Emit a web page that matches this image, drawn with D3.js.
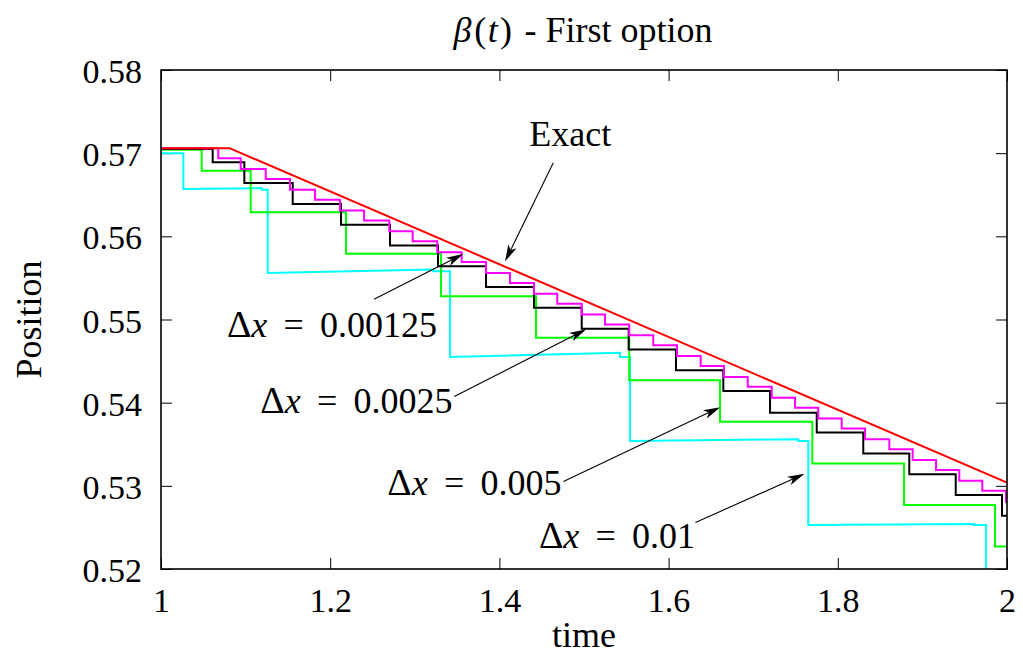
<!DOCTYPE html>
<html>
<head>
<meta charset="utf-8">
<script src="https://cdn.jsdelivr.net/npm/d3@7"></script>
<style>
  body { margin: 0; background: #fff; }
  svg text { font-family: "Liberation Serif", "Times New Roman", serif !important; fill: #000; }
</style>
</head>
<body>
<svg id="chart" width="1023" height="655"></svg>
<script>
// ---- axis ticks ----
const xTicks = [1, 1.2, 1.4, 1.6, 1.8, 2];
const yTicks = [0.52, 0.53, 0.54, 0.55, 0.56, 0.57, 0.58];

// ---- exact interface position ----
const exactTime = [1, 1.081, 2];
const exactPos  = [0.5706, 0.5706, 0.5304];

// ---- Δx = 0.00125 : start of each plateau and its level ----
const fineTime = [1, 1.0677, 1.0942, 1.1238, 1.1525, 1.1820, 1.2116, 1.2400, 1.2699, 1.2975,
  1.3266, 1.3554, 1.3842, 1.4125, 1.4409, 1.4684, 1.4973, 1.5248, 1.5535, 1.5819, 1.6099,
  1.6379, 1.6655, 1.6935, 1.7219, 1.7494, 1.7769, 1.8046, 1.8322, 1.8609, 1.8885, 1.9161,
  1.9436, 1.9708, 1.9988];
const finePos = [0.5706, 0.5694, 0.5681, 0.5669, 0.5656, 0.5644, 0.5631, 0.5619, 0.5606, 0.5594,
  0.5581, 0.5569, 0.5556, 0.5544, 0.5531, 0.5519, 0.5506, 0.5494, 0.5481, 0.5469, 0.5456,
  0.5444, 0.5431, 0.5419, 0.5406, 0.5394, 0.5381, 0.5369, 0.5356, 0.5344, 0.5331, 0.5319,
  0.5306, 0.5294, 0.5281];

// ---- Δx = 0.0025 ----
const midTime = [1, 1.0611, 1.0985, 1.1557, 1.2128, 1.2707, 1.3274, 1.3842, 1.4409, 1.4973,
  1.5528, 1.6087, 1.6647, 1.7199, 1.7751, 1.8301, 1.8845, 1.9394, 1.9941];
const midPos = [0.5705, 0.5689, 0.5664, 0.5639, 0.5614, 0.5589, 0.5564, 0.5539, 0.5514, 0.5489,
  0.5464, 0.5439, 0.5414, 0.5388, 0.5364, 0.5339, 0.5314, 0.5289, 0.5264];

// ---- Δx = 0.005 ----
const coarseTime = [1, 1.0481, 1.1060, 1.2187, 1.3310, 1.4433, 1.5535, 1.6608, 1.7699, 1.8783, 1.9858];
const coarsePos  = [0.5704, 0.5679, 0.5629, 0.5579, 0.5528, 0.5478, 0.5427, 0.5377, 0.5327, 0.5277, 0.5227];

// ---- Δx = 0.01 (vertices of the trace) ----
const roughTime = [1, 1.0264, 1.0264, 1.1190, 1.1190, 1.1261, 1.1261, 1.3219, 1.3219, 1.3416,
  1.3416, 1.5426, 1.5426, 1.5544, 1.5544, 1.7533, 1.7533, 1.7651, 1.7651, 1.9613, 1.9613,
  1.9752, 1.9752];
const roughPos = [0.5700, 0.5700, 0.5657, 0.5658, 0.5656, 0.5656, 0.5556, 0.5560, 0.5558, 0.5558,
  0.5455, 0.5460, 0.5455, 0.5455, 0.5354, 0.5356, 0.5354, 0.5354, 0.5253, 0.5254, 0.5253,
  0.5253, 0.5153];

// ---- annotations (data coordinates) ----
const labelText = ["Exact", "0.00125", "0.0025", "0.005", "0.01"];
const labelTime = [1.4838, 1.2021, 1.2310, 1.3704, 1.5390];
const labelPos  = [0.5709, 0.5479, 0.5387, 0.5289, 0.5225];
const arrowFromTime = [1.4637, 1.2518, 1.3467, 1.4757, 1.6317];
const arrowFromPos  = [0.56886, 0.55244, 0.54073, 0.53052, 0.52559];
const arrowToTime   = [1.4066, 1.3573, 1.5027, 1.6611, 1.7606];
const arrowToPos    = [0.55696, 0.55788, 0.54883, 0.53946, 0.53144];

// ---- layout ----
const serif = '"Liberation Serif", "Times New Roman", serif';
const plot = { left: 161, right: 1007, top: 70, bottom: 569 };
const svg = d3.select("#chart").attr("font-family", serif);

const x = d3.scaleLinear().domain([1, 2]).range([plot.left, plot.right]);
const y = d3.scaleLinear().domain([0.52, 0.58]).range([plot.bottom, plot.top]);

svg.append("defs").append("clipPath").attr("id", "plotClip")
  .append("rect")
  .attr("x", plot.left).attr("y", plot.top)
  .attr("width", plot.right - plot.left).attr("height", plot.bottom - plot.top);

// ---- axes with inward ticks on all four sides ----
const tickLen = 11;
const fmtX = d3.format("");
const fmtY = d3.format(".2f");

const gBottom = svg.append("g").attr("transform", `translate(0,${plot.bottom})`)
  .call(d3.axisBottom(x).tickValues(xTicks).tickSize(-tickLen).tickFormat(fmtX));
gBottom.attr("font-family", serif);
gBottom.selectAll("text").attr("y", 0).attr("dy", 0)
  .attr("transform", "translate(0,42.5)")
  .style("font-size", "34px");

svg.append("g").attr("transform", `translate(0,${plot.top})`)
  .call(d3.axisTop(x).tickValues(xTicks).tickSize(-tickLen).tickFormat(""));

const gLeft = svg.append("g").attr("transform", `translate(${plot.left},0)`)
  .call(d3.axisLeft(y).tickValues(yTicks).tickSize(-tickLen).tickFormat(fmtY));
gLeft.attr("font-family", serif);
gLeft.selectAll("text").attr("x", -19).attr("dy", "0.37em")
  .style("font-size", "34px");

svg.append("g").attr("transform", `translate(${plot.right},0)`)
  .call(d3.axisRight(y).tickValues(yTicks).tickSize(-tickLen).tickFormat(""));

svg.selectAll(".domain").remove();
svg.selectAll(".tick line").attr("stroke", "#000").attr("stroke-width", 1);

// ---- data traces ----
const lineGen = d3.line().x(d => x(d[0])).y(d => y(d[1]));
const stepGen = d3.line().x(d => x(d[0])).y(d => y(d[1])).curve(d3.curveStepAfter);

function stepPoints(ts, vs) {
  const pts = ts.map((t, i) => [t, vs[i]]);
  pts.push([x.domain()[1], vs[vs.length - 1]]);
  return pts;
}

const traces = svg.append("g").attr("clip-path", "url(#plotClip)")
  .attr("fill", "none").attr("stroke-width", 2).attr("stroke-linejoin", "miter");

traces.append("path")
  .attr("d", lineGen(roughTime.map((t, i) => [t, roughPos[i]])))
  .attr("stroke", "#00ffff");
traces.append("path")
  .attr("d", stepGen(stepPoints(coarseTime, coarsePos)))
  .attr("stroke", "#00ff00");
traces.append("path")
  .attr("d", stepGen(stepPoints(midTime, midPos)))
  .attr("stroke", "#000000");
traces.append("path")
  .attr("d", stepGen(stepPoints(fineTime, finePos)))
  .attr("stroke", "#ff00ff");
traces.append("path")
  .attr("d", lineGen(exactTime.map((t, i) => [t, exactPos[i]])))
  .attr("stroke", "#ff0000");

// ---- frame ----
svg.append("rect")
  .attr("x", plot.left).attr("y", plot.top)
  .attr("width", plot.right - plot.left).attr("height", plot.bottom - plot.top)
  .attr("fill", "none").attr("stroke", "#000").attr("stroke-width", 1.6);

// ---- arrows ----
const headLen = 17, headHalf = 4.5, notch = 0.75;
const ann = svg.append("g");
arrowFromTime.forEach((t0, i) => {
  const x1 = x(t0), y1 = y(arrowFromPos[i]);
  const x2 = x(arrowToTime[i]), y2 = y(arrowToPos[i]);
  const a = Math.atan2(y2 - y1, x2 - x1);
  const ux = Math.cos(a), uy = Math.sin(a);
  const bx = x2 - ux * headLen, by = y2 - uy * headLen;
  const nx = x2 - ux * headLen * notch, ny = y2 - uy * headLen * notch;
  ann.append("line")
    .attr("x1", x1).attr("y1", y1).attr("x2", nx).attr("y2", ny)
    .attr("stroke", "#000").attr("stroke-width", 1.1);
  ann.append("path")
    .attr("d", `M${x2},${y2}L${bx - uy * headHalf},${by + ux * headHalf}L${nx},${ny}L${bx + uy * headHalf},${by - ux * headHalf}Z`)
    .attr("fill", "#000");
});

// ---- labels ----
labelText.forEach((s, i) => {
  const t = ann.append("text")
    .attr("x", x(labelTime[i])).attr("y", y(labelPos[i]))
    .attr("text-anchor", "middle")
    .attr("font-family", serif)
    .style("font-size", "36px");
  if (i === 0) {
    t.text(s);
  } else {
    t.append("tspan").style("font-size", "38px").text("\u0394");
    t.append("tspan").style("font-style", "italic").text("x");
    t.append("tspan").attr("dx", "0.45em").text("=");
    t.append("tspan").attr("dx", "0.45em").text(s);
  }
});

// ---- title and axis titles ----
const title = svg.append("text")
  .attr("x", 583).attr("y", 42)
  .attr("text-anchor", "middle")
  .attr("font-family", serif)
  .style("font-size", "36px");
title.append("tspan").style("font-style", "italic").text("\u03B2");
title.append("tspan").attr("dx", "0.08em").text("(");
title.append("tspan").style("font-style", "italic").attr("dx", "0.04em").text("t");
title.append("tspan").attr("dx", "0.06em").text(")");
title.append("tspan").attr("dx", "0.1em").text(" - First option");

svg.append("text")
  .attr("x", (plot.left + plot.right) / 2).attr("y", 647)
  .attr("text-anchor", "middle")
  .attr("font-family", serif)
  .style("font-size", "36px")
  .text("time");

svg.append("text")
  .attr("transform", `translate(41,${(plot.top + plot.bottom) / 2}) rotate(-90)`)
  .attr("text-anchor", "middle")
  .attr("font-family", serif)
  .style("font-size", "36px")
  .text("Position");
</script>
</body>
</html>
